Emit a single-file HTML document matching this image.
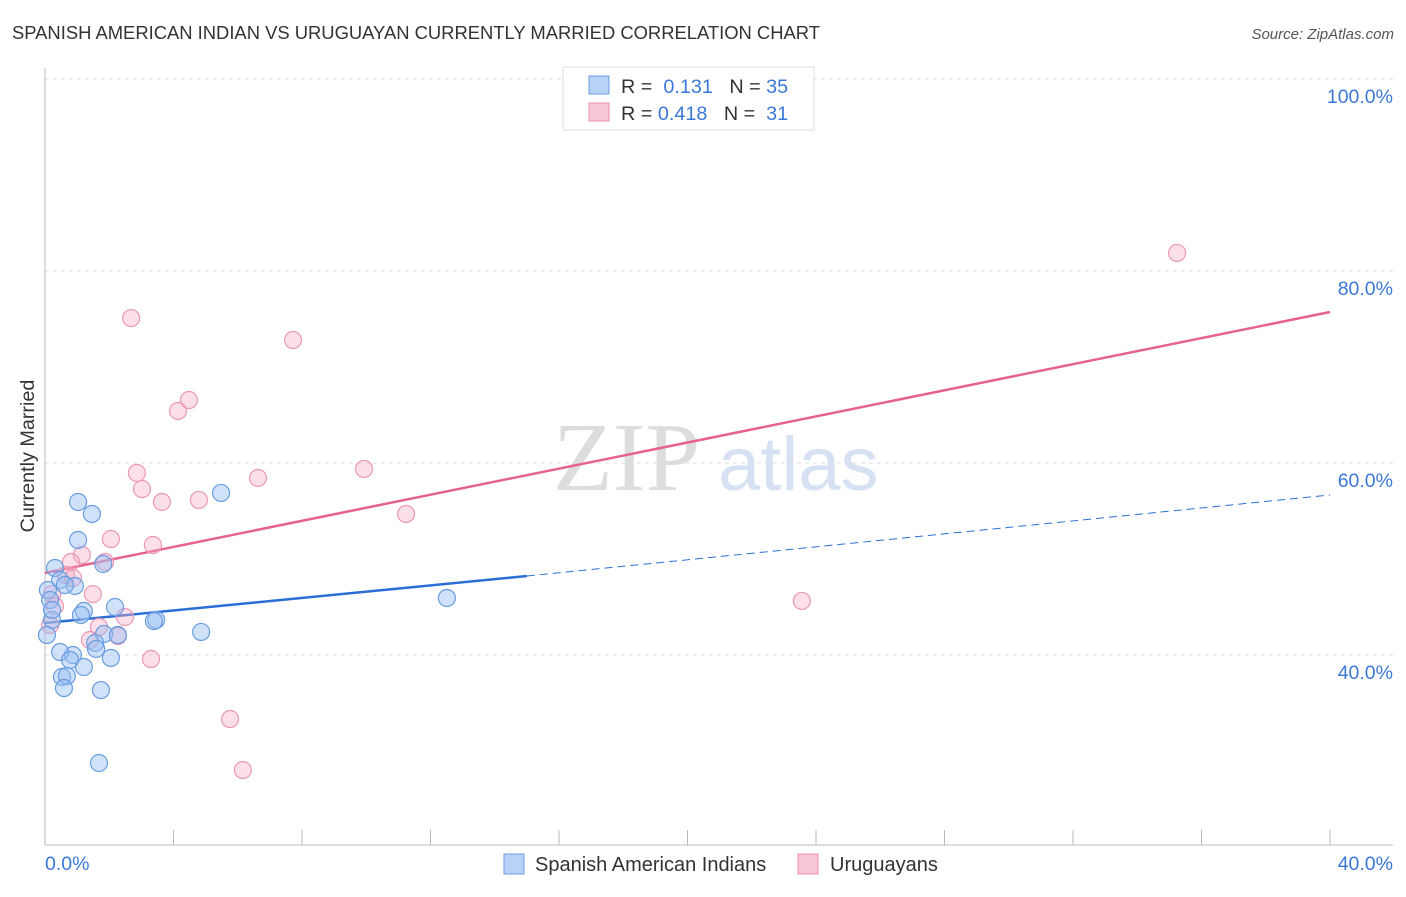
<!DOCTYPE html>
<html><head><meta charset="utf-8"><style>
body{margin:0;background:#fff;font-family:"Liberation Sans",sans-serif;}
</style></head><body>
<svg width="1406" height="892" xmlns="http://www.w3.org/2000/svg" font-family="Liberation Sans, sans-serif">
<text x="12" y="39" font-size="18.4" fill="#333">SPANISH AMERICAN INDIAN VS URUGUAYAN CURRENTLY MARRIED CORRELATION CHART</text>
<text x="1394" y="39" font-size="15" fill="#555" text-anchor="end" font-style="italic">Source: ZipAtlas.com</text>
<text x="553" y="490" font-size="98" fill="#ddd" font-family="Liberation Serif, serif">ZIP</text>
<text x="718" y="490" font-size="76" fill="#d6e2f3">atlas</text>
<g id="grid"></g>
<line x1="45" y1="68" x2="45" y2="845" stroke="#bbb"/>
<line x1="45" y1="845" x2="1393" y2="845" stroke="#bbb"/>
<g id="xticks"></g>
<text transform="translate(34,456) rotate(-90)" font-size="19.8" fill="#333" text-anchor="middle">Currently Married</text>
<text x="45" y="870" font-size="19.5" fill="#3a78d8">0.0%</text>
<text x="1393" y="870" font-size="19.5" fill="#3a78d8" text-anchor="end">40.0%</text>
<g id="lines"></g>
<g id="points"></g>
<g>
<rect x="563" y="67" width="251" height="63" fill="#fff" stroke="#ddd"/>
<rect x="589" y="76" width="20" height="18" fill="#b8d2f5" stroke="#6a9de0"/>
<rect x="589" y="103" width="20" height="18" fill="#f9c8d8" stroke="#e890b0"/>
<text x="621" y="93" font-size="19.8" fill="#333">R = <tspan fill="#3a78d8">&#160;0.131</tspan>&#160;&#160;&#160;N = <tspan fill="#3a78d8">35</tspan></text>
<text x="621" y="120" font-size="19.8" fill="#333">R = <tspan fill="#3a78d8">0.418</tspan>&#160;&#160;&#160;N = <tspan fill="#3a78d8">&#160;31</tspan></text>
</g>
<g>
<rect x="504" y="854" width="20" height="20" fill="#b8d2f5" stroke="#6a9de0"/>
<text x="535" y="871" font-size="20" fill="#333">Spanish American Indians</text>
<rect x="798" y="854" width="20" height="20" fill="#f9c8d8" stroke="#e890b0"/>
<text x="830" y="871" font-size="20" fill="#333">Uruguayans</text>
</g>
</svg>
<script>
const yTicks=[100,80,60,40];
const yTickLabels=["100.0%","80.0%","60.0%","40.0%"];
const xTickVals=[4,8,12,16,20,24,28,32,36,40];
const blueX=[1.03,1.46,1.03,5.48,0.31,1.81,0.47,0.93,0.09,0.62,0.16,1.21,1.12,2.18,3.46,3.39,4.86,1.84,2.27,0.22,0.06,1.56,1.59,0.87,0.47,0.78,1.21,2.05,0.53,0.68,0.59,1.74,1.68,12.51,0.22];
const blueY=[55.94,54.69,51.98,56.88,49.06,49.48,47.81,47.19,46.77,47.29,45.73,44.58,44.17,45.0,43.65,43.54,42.4,42.19,42.08,43.65,42.08,41.25,40.63,40.0,40.31,39.48,38.75,39.69,37.71,37.81,36.56,36.35,28.75,45.94,44.69];
const pinkX=[35.24,2.68,7.72,4.48,4.14,2.86,9.93,6.63,3.02,3.64,4.79,11.24,2.05,3.36,1.15,0.81,1.87,0.65,0.87,0.22,1.49,0.31,2.49,1.68,2.27,1.40,3.30,23.56,5.76,6.16,0.16];
const pinkY=[81.88,75.1,72.81,66.56,65.42,58.96,59.38,58.44,57.29,55.94,56.15,54.69,52.08,51.46,50.42,49.69,49.69,48.33,48.02,46.35,46.35,45.1,43.96,42.92,41.98,41.56,39.58,45.63,33.33,28.02,43.13];
const blueTrend=[43.33,48.23,56.67]; // y at x=0, 15, 40
const pinkTrend=[48.54,75.73]; // y at x=0, 40
const NS="http://www.w3.org/2000/svg";
const sx=v=>45+v/40*1285;
const sy=v=>79+(100-v)*9.6;
function mk(tag,attrs,parent){const e=document.createElementNS(NS,tag);for(const k in attrs)e.setAttribute(k,attrs[k]);document.getElementById(parent).appendChild(e);return e;}
yTicks.forEach((t,i)=>{
 const l=mk('line',{x1:45,x2:1393,y1:sy(t),y2:sy(t),stroke:'#ddd','stroke-dasharray':'4,4'},'grid');
 
 
 const tx=mk('text',{x:1393,y:sy(t)+24,'font-size':19.5,fill:'#3a78d8','text-anchor':'end'},'grid');
 tx.textContent=yTickLabels[i];
 
 
});
xTickVals.forEach(v=>{
 const l=mk('line',{x1:sx(v),x2:sx(v),y1:830,y2:845,stroke:'#bbb'},'xticks');
 
 
});
function pts(xs,ys,fill,stroke,name){
 xs.forEach((x,i)=>{
  const c=mk('circle',{cx:sx(x),cy:sy(ys[i]),r:8.5,fill:fill,stroke:stroke,'stroke-width':1.2},'points');
  
  
 });
}
pts(pinkX,pinkY,'rgba(246,170,196,0.38)','#eb98b6','uruguayan-point');
pts(blueX,blueY,'rgba(150,190,242,0.45)','#6a9de0','spanish-american-indian-point');
let l=mk('line',{x1:sx(0),y1:sy(blueTrend[0]),x2:sx(15),y2:sy(blueTrend[1]),stroke:'#2a6fd6','stroke-width':2.5},'lines');


l=mk('line',{x1:sx(15),y1:sy(blueTrend[1]),x2:sx(40),y2:sy(blueTrend[2]),stroke:'#2a6fd6','stroke-width':1,'stroke-dasharray':'8,5'},'lines');


l=mk('line',{x1:sx(0),y1:sy(pinkTrend[0]),x2:sx(40),y2:sy(pinkTrend[1]),stroke:'#e5628e','stroke-width':2.5},'lines');


</script>
</body></html>
